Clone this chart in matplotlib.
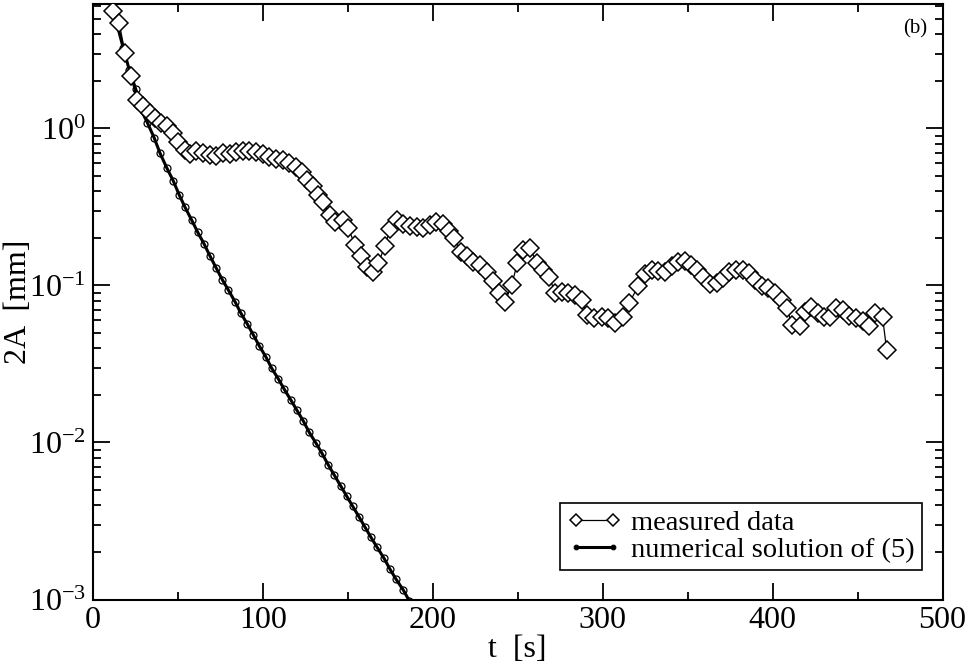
import matplotlib
matplotlib.use("Agg")
import matplotlib.pyplot as plt
from matplotlib.ticker import LogLocator, LogFormatterMathtext, MultipleLocator, NullFormatter

plt.rcParams['font.family'] = ['Liberation Serif', 'DejaVu Serif']
plt.rcParams['mathtext.fontset'] = 'custom'
plt.rcParams['mathtext.rm'] = 'Liberation Serif'
plt.rcParams['mathtext.it'] = 'Liberation Serif:italic'
plt.rcParams['mathtext.bf'] = 'Liberation Serif:bold'

# measured amplitude
t_meas = [11.8, 15.6, 19.0, 22.4, 25.9, 29.8, 33.7, 36.6, 40.0, 43.9, 47.4, 50.4, 54.3,
          57.2, 61.0, 64.9, 68.8, 72.7, 76.6, 80.5, 84.4, 88.3, 92.2, 96.1, 100.0, 103.9,
          107.8, 111.7, 115.6, 119.5,
          122.9, 125.9, 129.8, 132.7, 135.6, 139.6, 142.5, 147.1, 150.4, 154.3, 157.6, 161.2,
          164.7, 168.0, 171.9, 174.9, 178.8, 182.7, 186.6, 190.6, 194.5, 198.4, 201.9, 205.9,
          209.8, 212.5, 216.5, 220.0, 223.9, 227.8, 231.8, 235.3, 239.2, 242.5, 246.5, 249.8,
          252.9, 257.2, 261.5, 265.1, 268.6, 271.9, 275.9, 279.8, 283.7, 287.6, 290.9, 294.9,
          299.4, 303.3, 307.2, 312.1, 315.6,
          320.9, 324.9, 328.8, 332.7, 336.6, 340.6, 344.5, 348.4, 351.8, 355.6, 359.2, 363.1,
          367.1, 370.6, 374.5, 378.4, 382.4, 386.2, 389.6, 393.5, 397.4, 401.4, 405.3, 408.6,
          411.2, 416.1, 419.0, 422.9, 426.8, 430.2, 433.7, 437.6, 441.5, 445.1, 449.0, 453.3,
          456.8, 460.2, 464.7, 467.1]
a_meas = [5.6, 4.68, 3.01, 2.16, 1.52, 1.38, 1.26, 1.16, 1.08, 1.03, 0.93, 0.82, 0.73,
          0.69, 0.72, 0.70, 0.68, 0.67, 0.70, 0.69, 0.71, 0.72, 0.72, 0.71, 0.69, 0.66,
          0.64, 0.63, 0.60, 0.57,
          0.53, 0.47, 0.43, 0.377, 0.342, 0.281, 0.255, 0.261, 0.231, 0.181, 0.153, 0.132,
          0.122, 0.138, 0.179, 0.228, 0.261, 0.246, 0.239, 0.235, 0.231, 0.243, 0.255, 0.246,
          0.223, 0.200, 0.164, 0.153, 0.142, 0.135, 0.122, 0.106, 0.090, 0.078, 0.101, 0.138,
          0.168, 0.173, 0.138, 0.126, 0.114, 0.090, 0.091, 0.090, 0.087, 0.081, 0.065, 0.062,
          0.063, 0.062, 0.058, 0.063, 0.077,
          0.099, 0.118, 0.126, 0.124, 0.122, 0.133, 0.142, 0.144, 0.135, 0.126, 0.114, 0.102,
          0.104, 0.111, 0.121, 0.126, 0.126, 0.120, 0.108, 0.099, 0.096, 0.089, 0.081, 0.072,
          0.056, 0.055, 0.068, 0.073, 0.067, 0.063, 0.063, 0.072, 0.070, 0.064, 0.062, 0.059,
          0.055, 0.067, 0.063, 0.039]

# numerical solution of (5)
t_num = [11.8, 14.1, 18.0, 21.5, 25.3, 27.8, 32.1, 36.1, 39.6, 43.5, 47.4, 50.9, 54.3,
         58.2, 61.8, 65.5, 69.0, 72.5, 76.2, 79.8, 83.7, 87.2, 90.9, 94.5, 98.0, 101.8,
         105.3, 109.2, 112.7, 116.5, 120.2, 123.9, 127.4, 131.2, 134.9, 138.6, 142.2, 145.8,
         149.4, 153.0, 156.6, 160.2, 163.7, 167.1, 171.4, 174.9, 178.4, 182.7, 186.3]
a_num = [5.6, 4.68, 3.24, 2.36, 1.78, 1.36, 1.09, 0.874, 0.695, 0.563, 0.463, 0.377, 0.315,
         0.261, 0.218, 0.184, 0.154, 0.130, 0.109, 0.0935, 0.0789, 0.0665, 0.0569, 0.0484,
         0.0412, 0.0352, 0.0297, 0.0254, 0.0218, 0.0187, 0.0160, 0.0137, 0.0116, 0.00997,
         0.00853, 0.00719, 0.00618, 0.00531, 0.00456, 0.00392, 0.00337, 0.00289, 0.00249,
         0.00217, 0.00183, 0.00156, 0.00135, 0.00115, 0.00098]

fig = plt.figure(figsize=(9.67, 6.66), dpi=100)
ax = fig.add_axes([0.0959, 0.0998, 0.8788, 0.8942])

ax.plot(t_meas, a_meas, color='black', lw=0.9, marker='D', ms=9.5, mfc='white',
        mec='black', mew=1.1, label='measured data', zorder=3)
ax.plot(t_num, a_num, color='black', lw=2.2, marker='o', ms=5, mfc='none',
        mec='black', mew=0.9, label='numerical solution of (5)', zorder=2)

ax.set_yscale('log')
ax.set_xlim(0, 500)
ax.set_ylim(1e-3, 6.2)

ax.xaxis.set_major_locator(MultipleLocator(100))
ax.xaxis.set_minor_locator(MultipleLocator(50))
ax.yaxis.set_major_locator(LogLocator(base=10, numticks=10))
ax.yaxis.set_minor_locator(LogLocator(base=10, subs=range(2, 10), numticks=20))
ax.yaxis.set_major_formatter(LogFormatterMathtext())
ax.yaxis.set_minor_formatter(NullFormatter())

ax.tick_params(which='both', direction='in', top=True, right=True, width=1.3, labelsize=23)
ax.tick_params(which='major', length=12, pad=5)
ax.tick_params(which='minor', length=6)
for s in ax.spines.values():
    s.set_linewidth(1.5)

ax.set_xlabel('t  [s]', fontsize=23, labelpad=0)
ax.set_ylabel('2A  [mm]', fontsize=23)
ax.yaxis.set_label_coords(-0.07, 0.5)

ax.text(0.982, 0.975, '(b)', transform=ax.transAxes, ha='right', va='top', fontsize=15)

leg = ax.legend(loc='lower right', bbox_to_anchor=(0.976, 0.0495), borderaxespad=0,
                fontsize=20.5, numpoints=2, handlelength=1.9, handletextpad=0.35,
                labelspacing=0.05, borderpad=0.25, fancybox=False, framealpha=1,
                edgecolor='black', markerscale=0.65)
leg.get_frame().set_linewidth(1.2)

fig.savefig('out.png', dpi=100)
